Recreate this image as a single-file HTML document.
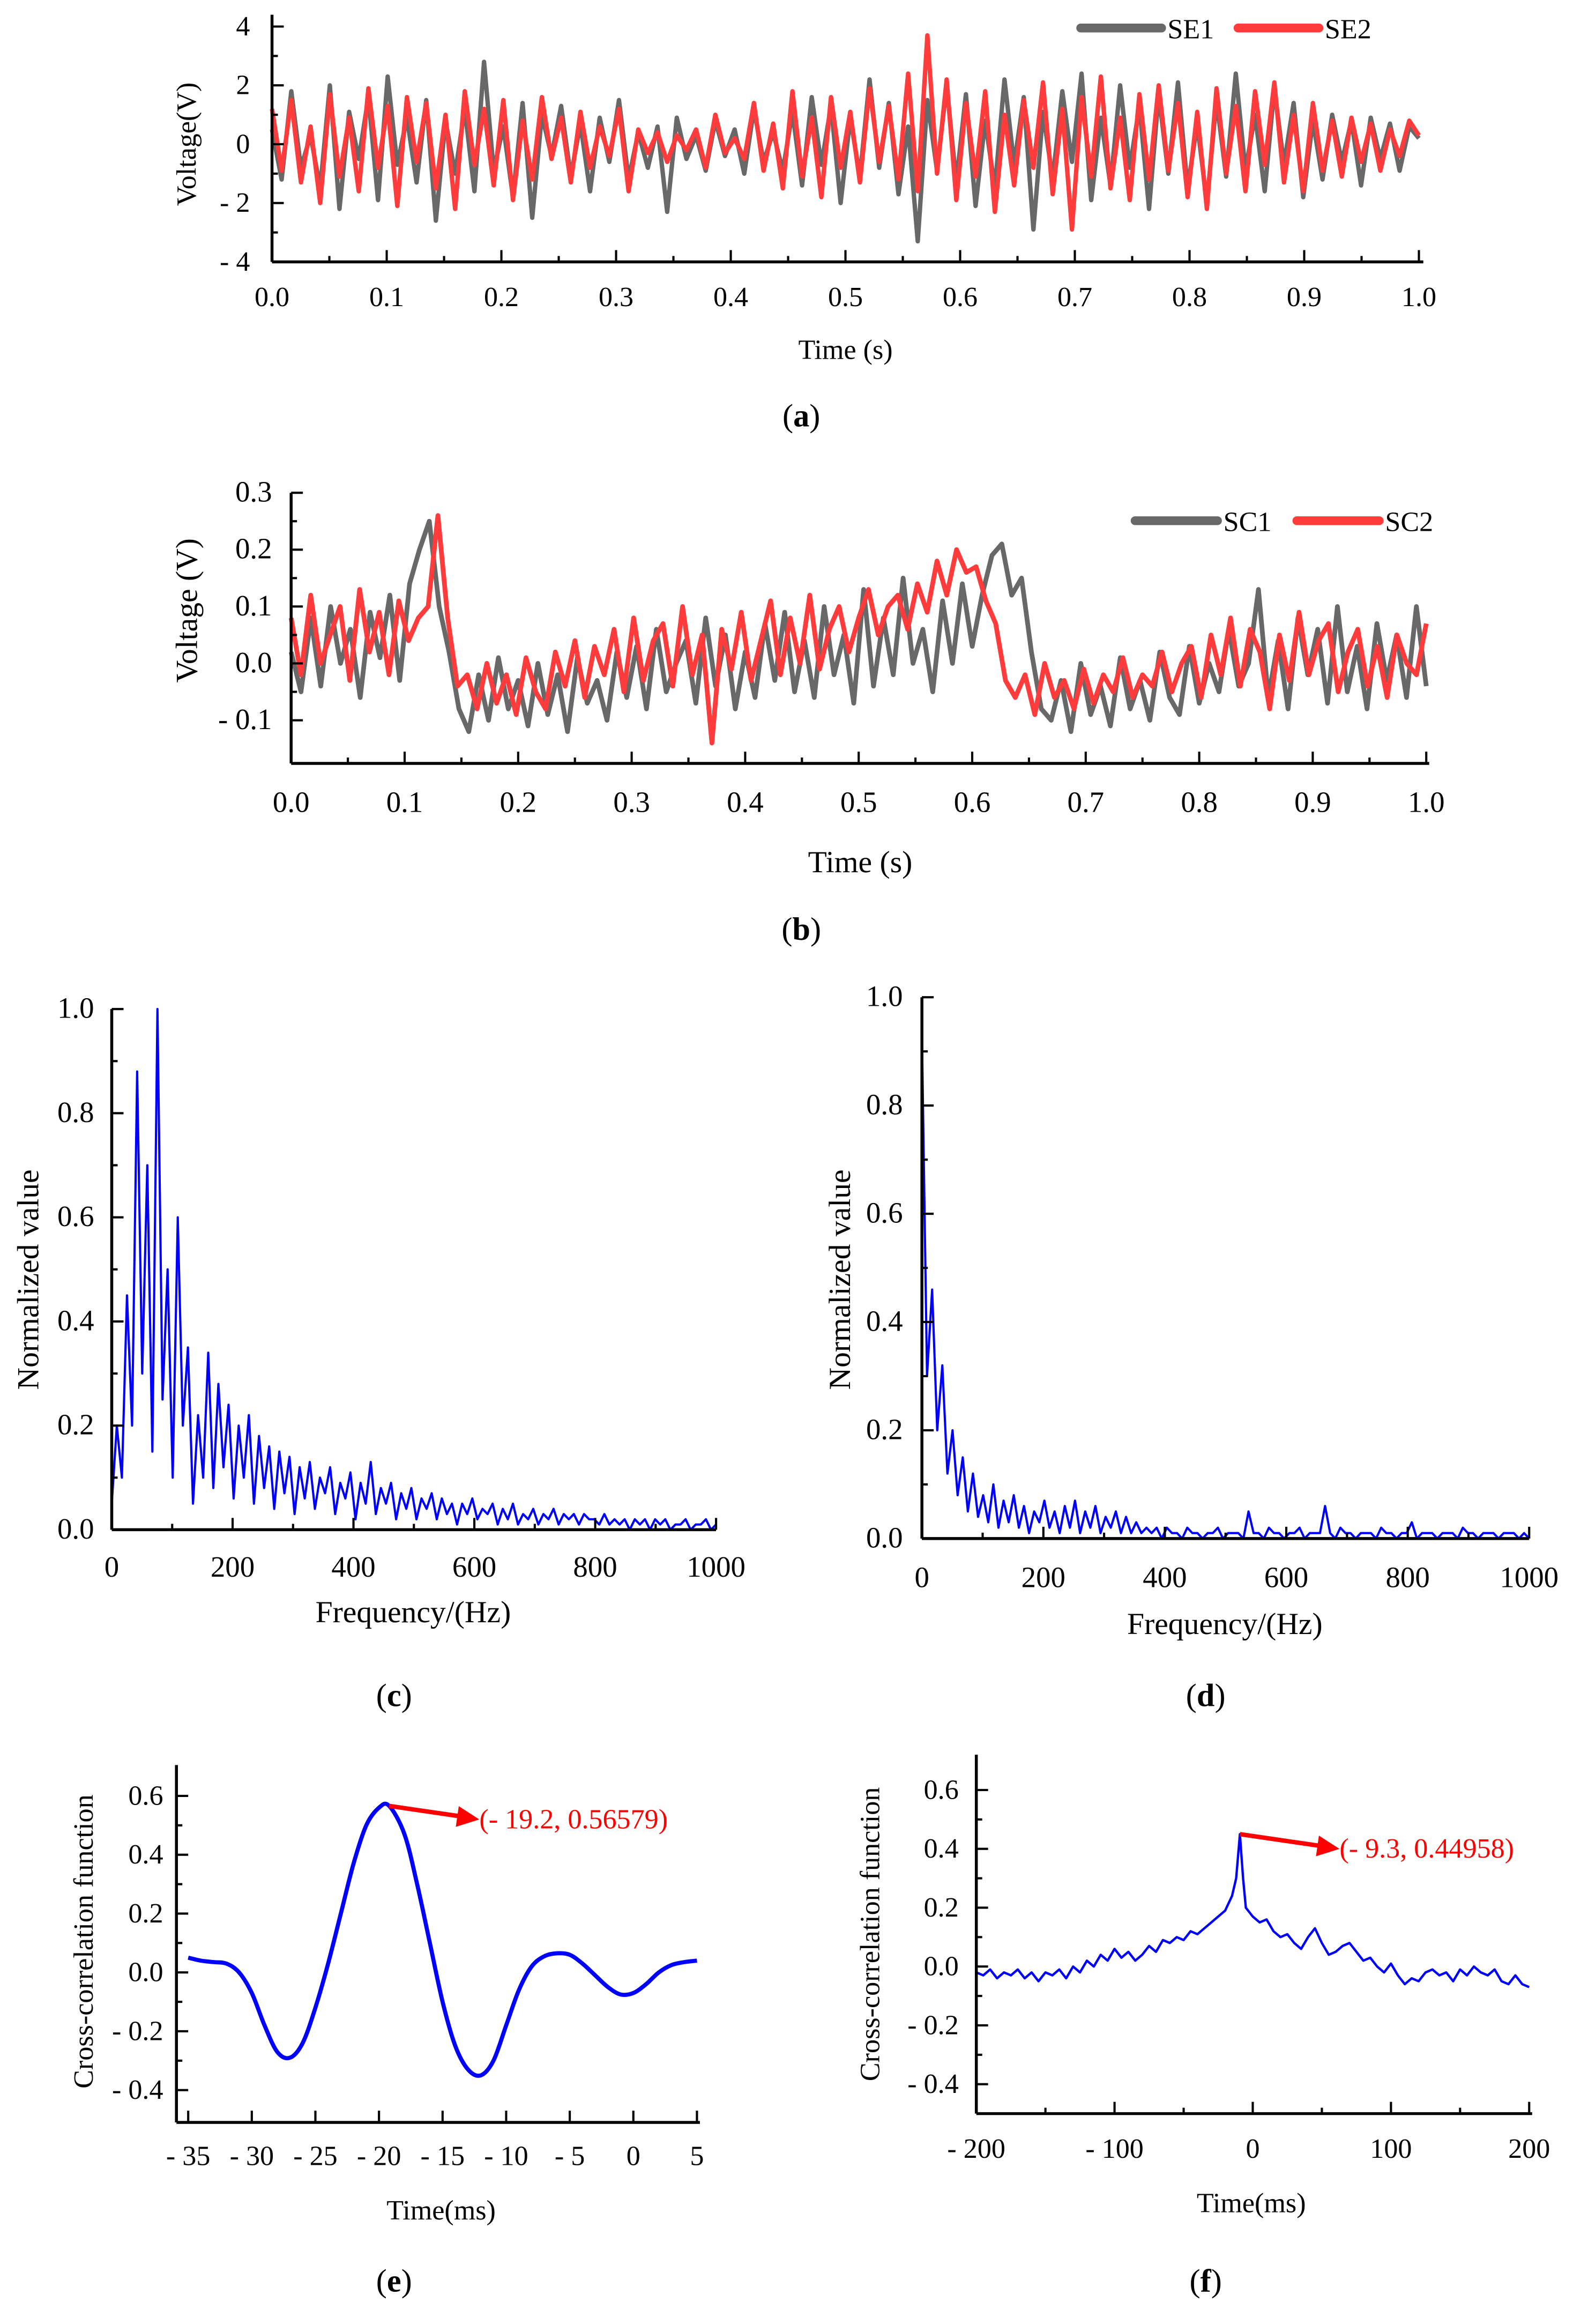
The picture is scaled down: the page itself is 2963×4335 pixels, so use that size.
<!DOCTYPE html>
<html><head><meta charset="utf-8"><style>
html,body{margin:0;padding:0;background:#fff}
svg{display:block}
text{font-family:"Liberation Serif",serif;fill:#000}
</style></head><body>
<svg id="fig" width="2963" height="4335" viewBox="0 0 1080 1580" xmlns="http://www.w3.org/2000/svg"></svg>
<script>
// ---------- data ----------
const seTicks=[0.0,0.1,0.2,0.3,0.4,0.5,0.6,0.7,0.8,0.9,1.0];
const seYTicks=[4,2,0,-2,-4];
const se1=[0.5,-1.2,1.8,-0.8,0.3,-1.5,2.0,-2.2,1.1,-0.5,1.6,-1.9,2.3,-0.7,0.9,-1.3,1.5,-2.6,0.8,-1.0,1.2,-1.6,2.8,-0.9,0.6,-1.8,1.4,-2.5,1.0,-0.4,1.3,-1.1,0.7,-1.6,0.9,-0.6,1.5,-1.2,0.4,-0.8,0.6,-2.3,0.9,-0.5,0.3,-0.9,0.8,-0.4,0.5,-1.0,1.2,-0.6,0.4,-0.9,1.1,-1.4,1.6,-0.7,1.3,-2.0,0.9,-1.1,2.2,-0.8,1.4,-1.7,0.6,-3.3,1.5,-0.9,2.0,-1.3,1.7,-2.1,0.8,-1.5,2.2,-0.7,1.6,-2.9,1.1,-1.2,1.8,-0.6,2.4,-1.9,0.9,-1.4,2.0,-0.8,1.3,-2.2,1.7,-1.0,2.1,-1.5,0.7,-2.0,1.5,-1.1,2.4,-0.9,1.0,-1.6,1.9,-0.7,1.4,-1.8,0.8,-1.2,1.0,-0.6,0.8,-1.4,0.9,-0.5,0.7,-0.9,0.6,0.2];
const se2=[1.2,-0.9,1.5,-1.3,0.6,-2.0,1.7,-1.1,0.9,-1.6,1.9,-0.8,1.3,-2.1,1.6,-0.6,1.4,-1.5,1.0,-2.2,1.8,-0.7,1.2,-1.4,1.5,-1.9,0.8,-1.2,1.6,-0.5,0.9,-1.3,1.1,-0.8,0.6,-0.4,1.2,-1.6,0.5,-0.3,0.4,-0.6,0.3,-0.2,0.5,-0.8,1.0,-0.3,0.2,-0.5,1.4,-0.9,0.7,-1.5,1.8,-1.1,0.9,-1.8,1.6,-0.8,1.1,-1.3,1.9,-0.6,1.3,-1.2,2.4,-1.6,3.7,-1.0,2.2,-1.9,1.4,-1.1,1.8,-2.3,1.0,-1.4,1.5,-0.8,2.1,-1.7,1.2,-2.9,1.6,-1.1,2.3,-1.5,0.9,-1.9,1.7,-1.2,2.0,-0.9,1.4,-1.8,1.1,-2.2,1.9,-1.0,1.3,-1.6,1.8,-0.7,2.1,-1.3,1.0,-1.6,1.4,-0.9,0.8,-1.1,0.9,-0.6,0.7,-0.9,0.5,-0.4,0.8,0.3];
const scTicks=[0.0,0.1,0.2,0.3,0.4,0.5,0.6,0.7,0.8,0.9,1.0];
const scYTicks=[0.3,0.2,0.1,0.0,-0.1];
const sc1=[0.02,-0.05,0.08,-0.04,0.1,0.0,0.06,-0.06,0.09,0.01,0.12,-0.03,0.14,0.2,0.25,0.1,0.02,-0.08,-0.12,-0.02,-0.1,0.01,-0.08,-0.03,-0.11,0.0,-0.09,-0.02,-0.12,0.01,-0.07,-0.03,-0.1,0.02,-0.06,0.03,-0.08,0.06,-0.05,0.0,0.04,-0.07,0.08,-0.04,0.05,-0.08,0.02,-0.06,0.07,-0.03,0.09,-0.05,0.04,-0.06,0.1,-0.02,0.05,-0.07,0.13,-0.04,0.08,-0.02,0.15,0.0,0.06,-0.05,0.11,0.0,0.14,0.03,0.12,0.19,0.21,0.12,0.15,0.02,-0.08,-0.1,-0.03,-0.12,0.0,-0.09,-0.04,-0.11,0.01,-0.08,-0.03,-0.1,0.02,-0.06,-0.09,0.03,-0.07,0.0,-0.05,0.06,-0.04,0.0,0.13,-0.06,0.04,-0.08,0.08,-0.02,0.06,-0.07,0.1,-0.05,0.03,-0.08,0.07,-0.03,0.05,-0.06,0.1,-0.04];
const sc2=[0.08,-0.02,0.12,0.0,0.05,0.1,-0.03,0.13,0.02,0.09,-0.02,0.11,0.04,0.08,0.1,0.26,0.08,-0.04,-0.02,-0.08,0.0,-0.07,-0.02,-0.09,0.01,-0.05,-0.08,0.02,-0.04,0.04,-0.06,0.03,-0.02,0.06,-0.05,0.08,-0.03,0.04,0.07,-0.04,0.1,-0.02,0.05,-0.14,0.06,-0.01,0.09,-0.03,0.04,0.11,-0.02,0.08,0.0,0.12,-0.01,0.06,0.1,0.02,0.08,0.13,0.05,0.1,0.12,0.06,0.14,0.09,0.18,0.12,0.2,0.16,0.17,0.11,0.07,-0.03,-0.06,-0.02,-0.09,0.0,-0.06,-0.03,-0.08,-0.01,-0.07,-0.02,-0.05,0.01,-0.06,-0.02,-0.04,0.02,-0.05,0.0,0.03,-0.06,0.05,-0.02,0.08,-0.04,0.06,0.02,-0.08,0.05,-0.03,0.09,-0.02,0.04,0.07,-0.05,0.02,0.06,-0.04,0.03,-0.06,0.05,0.0,-0.02,0.07];
const fTicks=[0,200,400,600,800,1000];
const nTicks=[0.0,0.2,0.4,0.6,0.8,1.0];
const specC=[0.05,0.2,0.1,0.45,0.2,0.88,0.3,0.7,0.15,1.0,0.25,0.5,0.1,0.6,0.2,0.35,0.05,0.22,0.1,0.34,0.08,0.28,0.12,0.24,0.06,0.2,0.1,0.22,0.05,0.18,0.08,0.16,0.04,0.15,0.07,0.14,0.03,0.12,0.06,0.13,0.04,0.1,0.07,0.12,0.03,0.09,0.06,0.11,0.02,0.09,0.05,0.13,0.03,0.08,0.05,0.09,0.02,0.07,0.04,0.08,0.02,0.06,0.04,0.07,0.02,0.06,0.03,0.05,0.01,0.05,0.03,0.06,0.02,0.04,0.03,0.05,0.01,0.04,0.02,0.05,0.01,0.03,0.02,0.04,0.01,0.03,0.02,0.04,0.01,0.03,0.02,0.03,0.01,0.03,0.02,0.02,0.01,0.03,0.01,0.02,0.01,0.02,0.0,0.02,0.01,0.02,0.0,0.02,0.01,0.02,0.0,0.01,0.01,0.02,0.0,0.01,0.01,0.02,0.0,0.01];
const specD=[0.93,0.3,0.46,0.2,0.32,0.12,0.2,0.08,0.15,0.05,0.12,0.04,0.08,0.03,0.1,0.02,0.07,0.03,0.08,0.02,0.06,0.01,0.05,0.03,0.07,0.02,0.05,0.01,0.06,0.02,0.07,0.01,0.05,0.02,0.06,0.01,0.04,0.02,0.05,0.01,0.04,0.01,0.03,0.01,0.02,0.01,0.02,0.0,0.02,0.01,0.01,0.0,0.02,0.01,0.01,0.0,0.01,0.01,0.02,0.0,0.01,0.01,0.01,0.0,0.05,0.01,0.01,0.0,0.02,0.01,0.01,0.0,0.01,0.01,0.02,0.0,0.01,0.01,0.01,0.06,0.01,0.0,0.02,0.01,0.01,0.0,0.01,0.01,0.01,0.0,0.02,0.01,0.01,0.0,0.01,0.01,0.03,0.0,0.01,0.01,0.01,0.0,0.01,0.01,0.01,0.0,0.02,0.01,0.01,0.0,0.01,0.01,0.01,0.0,0.01,0.01,0.01,0.0,0.01,0.0];
const eT=[-35,-34,-33,-32,-31,-30,-29,-28,-27,-26,-25,-24,-23,-22,-21,-20,-19.2,-18,-17,-16,-15,-14,-13,-12,-11,-10,-9,-8,-7,-6,-5,-4,-3,-2,-1,0,1,2,3,4,5];
const eV=[0.05,0.04,0.035,0.03,0.0,-0.07,-0.18,-0.27,-0.29,-0.24,-0.12,0.03,0.2,0.37,0.5,0.56,0.566,0.47,0.3,0.1,-0.1,-0.25,-0.33,-0.35,-0.3,-0.18,-0.06,0.02,0.055,0.065,0.06,0.03,-0.01,-0.05,-0.075,-0.07,-0.04,0.0,0.025,0.035,0.04];
const eXTicks=[-35,-30,-25,-20,-15,-10,-5,0,5];
const eYTicks=[0.6,0.4,0.2,0.0,-0.2,-0.4];
const fT=[-200,-195,-190,-185,-180,-175,-170,-165,-160,-155,-150,-145,-140,-135,-130,-125,-120,-115,-110,-105,-100,-95,-90,-85,-80,-75,-70,-65,-60,-55,-50,-45,-40,-35,-30,-25,-20,-15,-12,-9.3,-7,-5,0,5,10,15,20,25,30,35,40,45,50,55,60,65,70,75,80,85,90,95,100,105,110,115,120,125,130,135,140,145,150,155,160,165,170,175,180,185,190,195,200];
const fV=[-0.02,-0.03,-0.01,-0.04,-0.02,-0.03,-0.01,-0.04,-0.02,-0.05,-0.02,-0.03,-0.01,-0.04,0.0,-0.02,0.02,0.0,0.04,0.02,0.06,0.03,0.05,0.02,0.04,0.07,0.05,0.09,0.08,0.1,0.09,0.12,0.11,0.13,0.15,0.17,0.19,0.24,0.3,0.45,0.3,0.2,0.17,0.15,0.16,0.12,0.1,0.11,0.08,0.06,0.1,0.13,0.08,0.04,0.05,0.07,0.08,0.05,0.02,0.03,0.0,-0.02,0.01,-0.03,-0.06,-0.04,-0.05,-0.02,-0.01,-0.03,-0.02,-0.05,-0.01,-0.03,0.0,-0.02,-0.03,-0.01,-0.05,-0.06,-0.03,-0.06,-0.07];
const fXTicks=[-200,-100,0,100,200];
const fYTicks=[0.6,0.4,0.2,0.0,-0.2,-0.4];

// ---------- helpers ----------
const NS='http://www.w3.org/2000/svg';
const svg=document.getElementById('fig');
function el(tag,attrs,parent){const e=document.createElementNS(NS,tag);for(const k in attrs)e.setAttribute(k,attrs[k]);(parent||svg).appendChild(e);return e;}
function txt(x,y,s,size,anchor,parent,extra){const t=el('text',Object.assign({x:x,y:y,'font-size':size,'text-anchor':anchor||'middle'},extra||{}),parent);t.textContent=s;return t;}
function lin(d0,d1,r0,r1){return v=>r0+(v-d0)*(r1-r0)/(d1-d0);}
function fmt(v,dec){const s=Math.abs(v).toFixed(dec);return v<0?'- '+s:s;}
function pathFrom(xs,ys,sx,sy){let d='';for(let i=0;i<ys.length;i++){d+=(i?'L':'M')+sx(xs[i]).toFixed(2)+' '+sy(ys[i]).toFixed(2);}return d;}
function idx(n,a,b){const r=[];for(let i=0;i<n;i++)r.push(a+(b-a)*i/(n-1));return r;}
function smooth(xs,ys,sx,sy){const p=xs.map((x,i)=>[sx(x),sy(ys[i])]);let d='M'+p[0][0]+' '+p[0][1];for(let i=0;i<p.length-1;i++){const p0=p[Math.max(0,i-1)],p1=p[i],p2=p[i+1],p3=p[Math.min(p.length-1,i+2)];d+='C'+(p1[0]+(p2[0]-p0[0])/6)+' '+(p1[1]+(p2[1]-p0[1])/6)+' '+(p2[0]-(p3[0]-p1[0])/6)+' '+(p2[1]-(p3[1]-p1[1])/6)+' '+p2[0]+' '+p2[1];}return d;}

function axes(g,cfg){
  const {sx,sy,xL,xR,yT,yB,xt,yt,xdec,ydec,fs,xLabY,yLabX,minorX,minorY}=cfg;
  const ax=el('g',{},g);
  
  el('line',{x1:xL,y1:yT,x2:xL,y2:yB,stroke:'#000','stroke-width':2},ax);
  el('line',{x1:xL,y1:yB,x2:xR,y2:yB,stroke:'#000','stroke-width':2},ax);
  xt.forEach(v=>{const x=sx(v);el('line',{x1:x,y1:yB,x2:x,y2:yB-8,stroke:'#000','stroke-width':1.5},ax);
    const t=txt(x,xLabY,fmt(v,xdec),fs,'middle',ax);});
  if(minorX)for(let i=0;i<xt.length-1;i++){const x=(sx(xt[i])+sx(xt[i+1]))/2;el('line',{x1:x,y1:yB,x2:x,y2:yB-4,stroke:'#000','stroke-width':1.5},ax);}
  yt.forEach(v=>{const y=sy(v);el('line',{x1:xL,y1:y,x2:xL+8,y2:y,stroke:'#000','stroke-width':1.5},ax);
    const t=txt(yLabX,y+6,fmt(v,ydec),fs,'end',ax);});
  if(minorY)for(let i=0;i<yt.length-1;i++){const y=(sy(yt[i])+sy(yt[i+1]))/2;el('line',{x1:xL,y1:y,x2:xL+4,y2:y,stroke:'#000','stroke-width':1.5},ax);}
}
function ytitle(g,x,y,s,fs){const t=txt(x,y,s,fs,'middle',g,{transform:'rotate(-90 '+x+' '+y+')'});}
function xtitle(g,x,y,s,fs){const t=txt(x,y,s,fs,'middle',g);}
function cap(x,y,letter){const t=el('text',{x:x,y:y,'font-size':22,'text-anchor':'middle'});
  t.appendChild(document.createTextNode('('));const b=el('tspan',{'font-weight':'bold'},t);b.textContent=letter;t.appendChild(document.createTextNode(')'));}
function panel(name){const g=el('g',{});return g;}
function series(g,d,color,w,name){const p=el('path',{d:d,fill:'none',stroke:color,'stroke-width':w,'stroke-linejoin':'round'},g);return p;}
function legend(g,x,y,color,label,len){const lg=el('g',{},g);
  el('line',{x1:x,y1:y,x2:x+len,y2:y,stroke:color,'stroke-width':6,'stroke-linecap':'round'},lg);txt(x+len+4,y+7,label,19,'start',lg);}

// ---------- panel a ----------
{const g=panel('panel-a');const sx=lin(0,1,185,965),sy=lin(-4,4,178,18);
 series(g,pathFrom(idx(se1.length,0,1),se1,sx,sy),'#686868',3,'series-se1');
 series(g,pathFrom(idx(se2.length,0,1),se2,sx,sy),'#ff3b3b',3,'series-se2');
 axes(g,{sx,sy,xL:185,xR:968,yT:10,yB:178,xt:seTicks,yt:seYTicks,xdec:1,ydec:0,fs:19,xLabY:208,yLabX:170,minorX:true,minorY:true});
 legend(g,735,19,'#686868','SE1',55);legend(g,842,19,'#ff3b3b','SE2',55);
 ytitle(g,133,98,'Voltage(V)',19);xtitle(g,575,244,'Time (s)',19);cap(545,290,'a');}
// ---------- panel b ----------
{const g=panel('panel-b');const sx=lin(0,1,198,970),sy=lin(0,0.3,451,335);
 series(g,pathFrom(idx(sc1.length,0,1),sc1,sx,sy),'#686868',3.2,'series-sc1');
 series(g,pathFrom(idx(sc2.length,0,1),sc2,sx,sy),'#ff3b3b',3.2,'series-sc2');
 axes(g,{sx,sy,xL:198,xR:972,yT:335,yB:519,xt:scTicks,yt:scYTicks,xdec:1,ydec:1,fs:20,xLabY:552,yLabX:185,minorX:true,minorY:true});
 legend(g,772,354,'#686868','SC1',56);legend(g,882,354,'#ff3b3b','SC2',56);
 ytitle(g,134,415,'Voltage (V)',21);xtitle(g,585,593,'Time (s)',21);cap(545,639,'b');}
// ---------- panel c ----------
{const g=panel('panel-c');const sx=lin(0,1000,76,487),sy=lin(0,1,1040,686);
 series(g,pathFrom(idx(specC.length,0,1000),specC,sx,sy),'#0000ff',1.5,'spectrum-c');
 axes(g,{sx,sy,xL:76,xR:487,yT:686,yB:1040,xt:fTicks,yt:nTicks,xdec:0,ydec:1,fs:20,xLabY:1072,yLabX:64,minorX:true,minorY:true});
 ytitle(g,26,870,'Normalized value',21);xtitle(g,281,1103,'Frequency/(Hz)',21);cap(268,1160,'c');}
// ---------- panel d ----------
{const g=panel('panel-d');const sx=lin(0,1000,627,1040),sy=lin(0,1,1046,678);
 series(g,pathFrom(idx(specD.length,0,1000),specD,sx,sy),'#0000ff',1.5,'spectrum-d');
 axes(g,{sx,sy,xL:627,xR:1040,yT:678,yB:1046,xt:fTicks,yt:nTicks,xdec:0,ydec:1,fs:20,xLabY:1079,yLabX:614,minorX:true,minorY:true});
 ytitle(g,578,870,'Normalized value',21);xtitle(g,833,1111,'Frequency/(Hz)',21);cap(820,1160,'d');}
// ---------- panel e ----------
{const g=panel('panel-e');const sx=lin(-35,5,128,474),sy=lin(0,0.6,1341,1221);
 series(g,smooth(eT,eV,sx,sy),'#0000ff',2.8,'cross-correlation-e');
 axes(g,{sx,sy,xL:120,xR:476,yT:1200,yB:1443,xt:eXTicks,yt:eYTicks,xdec:0,ydec:1,fs:19,xLabY:1472,yLabX:111,minorX:false,minorY:true});
 const px=sx(eT[16]),py=sy(eV[16]);
 const a=el('g',{},g);
 el('line',{x1:px,y1:py,x2:314,y2:1235,stroke:'#ff0000','stroke-width':3},a);
 el('polygon',{points:'326,1237 312,1228 310,1242',fill:'#ff0000'},a);
 txt(326,1243,'(- 19.2, 0.56579)',19,'start',a,{style:'fill:#ff0000'});
 ytitle(g,63,1320,'Cross-correlation function',19);xtitle(g,300,1509,'Time(ms)',19);cap(268,1558,'e');}
// ---------- panel f ----------
{const g=panel('panel-f');const sx=lin(-200,200,664,1040),sy=lin(0,0.6,1337,1217);
 series(g,pathFrom(fT,fV,sx,sy),'#0000ff',1.6,'cross-correlation-f');
 axes(g,{sx,sy,xL:664,xR:1042,yT:1193,yB:1437,xt:fXTicks,yt:fYTicks,xdec:0,ydec:1,fs:19,xLabY:1467,yLabX:652,minorX:true,minorY:true});
 const px=sx(fT[39]),py=sy(fV[39]);
 const a=el('g',{},g);
 el('line',{x1:px,y1:py,x2:898,y2:1255,stroke:'#ff0000','stroke-width':3},a);
 el('polygon',{points:'911,1257 897,1248 895,1262',fill:'#ff0000'},a);
 txt(911,1263,'(- 9.3, 0.44958)',19,'start',a,{style:'fill:#ff0000'});
 ytitle(g,598,1315,'Cross-correlation function',19);xtitle(g,851,1504,'Time(ms)',19);cap(820,1558,'f');}
</script>
</body></html>
